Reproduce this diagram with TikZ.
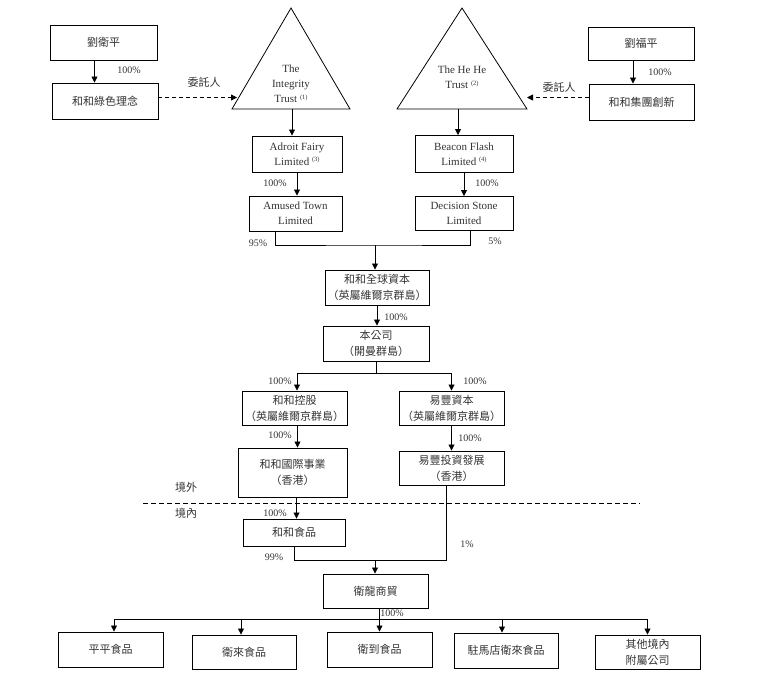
\documentclass[tikz,border=0pt]{standalone}
\usepackage{fontspec}
\setmainfont{Liberation Serif}
\newfontfamily\cjk{Noto Sans CJK TC}
\usetikzlibrary{arrows.meta,calc}
\newcommand\notemark[1]{\raisebox{0.7ex}{\fontsize{6.5}{6.5}\selectfont(#1)}}

\begin{document}
\begin{tikzpicture}[x=1pt,y=-1pt,line width=0.8pt,>={Triangle[length=6pt,width=6pt]},
    box/.style={draw,line width=0.95pt,inner sep=0pt,align=center,text=black!80,
      font=\fontsize{11}{15}\selectfont},
    zh/.style={box,font=\cjk\fontsize{11}{16}\selectfont},
    pct/.style={inner sep=0pt,text=black!80,font=\fontsize{10}{10}\selectfont},
    zhlabel/.style={inner sep=0pt,text=black!80,font=\cjk\fontsize{11}{11}\selectfont}]
  \useasboundingbox (0,0) rectangle (768,697);
  % owners and trusts
  \node[zh,minimum width=107pt,minimum height=35pt] (1) at (103.5,42.5) {劉衛平};
  \node[zh,minimum width=106pt,minimum height=36pt] (2) at (105,101) {和和綠色理念};
  \node[zh,minimum width=106pt,minimum height=33pt] (4) at (641,43.5) {劉福平};
  \node[zh,minimum width=105pt,minimum height=36pt] (5) at (641.5,102) {和和集團創新};
  \coordinate (3top) at (291,8);
  \coordinate (3left) at (232,109);
  \coordinate (3right) at (350,109);
  \coordinate (3base) at (292,109);
  \coordinate (3in) at (237,97.5);
  \coordinate (6top) at (462,8);
  \coordinate (6left) at (397,109);
  \coordinate (6right) at (527,109);
  \coordinate (6base) at (458,109);
  \coordinate (6in) at (527,97.5);
  \draw (3top) -- (3right) -- (3left) -- cycle;
  \draw (6top) -- (6right) -- (6left) -- cycle;
  \node[align=center,inner sep=0pt,text=black!80,font=\fontsize{11}{15}\selectfont] (3) at (291,84) {The\\Integrity\\Trust \notemark{1}};
  \node[align=center,inner sep=0pt,text=black!80,font=\fontsize{11}{15}\selectfont] (6) at (462,77.5) {The He He\\Trust \notemark{2}};
  % offshore holding companies
  \node[box,minimum width=90pt,minimum height=36pt] (7) at (297,154) {Adroit Fairy\\Limited \notemark{3}};
  \node[box,minimum width=93pt,minimum height=35pt] (8) at (295.5,213.5) {Amused Town\\Limited};
  \node[box,minimum width=98pt,minimum height=37pt] (9) at (464,154) {Beacon Flash\\Limited \notemark{4}};
  \node[box,minimum width=98pt,minimum height=34pt] (10) at (464,213.5) {Decision Stone\\Limited};
  \node[zh,minimum width=104pt,minimum height=35pt] (11) at (377,287.5) {和和全球資本\\（英屬維爾京群島）};
  \node[zh,minimum width=106pt,minimum height=35pt] (12) at (376,343.5) {本公司\\（開曼群島）};
  \node[zh,minimum width=105pt,minimum height=34pt] (13) at (294.5,408) {和和控股\\（英屬維爾京群島）};
  \node[zh,minimum width=105pt,minimum height=34pt] (14) at (451.5,408) {易豐資本\\（英屬維爾京群島）};
  \node[zh,minimum width=109pt,minimum height=49pt] (15) at (292.5,472.5) {和和國際事業\\（香港）};
  \node[zh,minimum width=105pt,minimum height=34pt] (16) at (451.5,468) {易豐投資發展\\（香港）};
  % onshore companies
  \node[zh,minimum width=102pt,minimum height=27pt] (17) at (294,532.5) {和和食品};
  \node[zh,minimum width=105pt,minimum height=34pt] (18) at (375.5,591) {衛龍商貿};
  \node[zh,minimum width=105pt,minimum height=35pt] (19) at (110.5,649.5) {平平食品};
  \node[zh,minimum width=104pt,minimum height=34pt] (20) at (244,652) {衛來食品};
  \node[zh,minimum width=105pt,minimum height=35pt] (21) at (379.5,649.5) {衛到食品};
  \node[zh,minimum width=104pt,minimum height=35pt] (22) at (506,650.5) {駐馬店衛來食品};
  \node[zh,minimum width=105pt,minimum height=34pt] (23) at (647.5,652) {其他境內\\附屬公司};
  % connectors
  \draw[->] ([xshift=-9pt]1.south) -- ([xshift=-9pt]1.south |- 2.north);
  \draw[->] ([xshift=-8pt]4.south) -- ([xshift=-8pt]4.south |- 5.north);
  \draw[->,dashed,dash pattern=on 4pt off 3pt] (2.east |- 3in) -- (3in);
  \draw[->,dashed,dash pattern=on 4pt off 3pt] (5.west |- 6in) -- (6in);
  \draw[->] (3base) -- (3base |- 7.north);
  \draw[->] (6base) -- (6base |- 9.north);
  \draw[->] (7.south) -- (7.south |- 8.north);
  \draw[->] (9.south) -- (9.south |- 10.north);
  \coordinate (m1) at (375,245);
  \draw ([xshift=-20pt]8.south) |- (m1) -| ([xshift=6pt]10.south);
  \draw[->] (m1) -- (m1 |- 11.north);
  \draw[->] (11.south) -- (11.south |- 12.north);
  \coordinate (m2) at (376,373);
  \draw (12.south) -- (m2);
  \draw[->] (m2) -| ([xshift=2.5pt]13.north);
  \draw[->] (m2) -| (14.north);
  \draw[->] ([xshift=3pt]13.south) -- ([xshift=3pt]13.south |- 15.north);
  \draw[->] (14.south) -- (14.south |- 16.north);
  \draw[->] ([xshift=4pt]15.south) -- ([xshift=4pt]15.south |- 17.north);
  \coordinate (m3) at (375,560);
  \draw (17.south) |- (m3) -| ([xshift=-5pt]16.south);
  \draw[->] (m3) -- (m3 |- 18.north);
  \coordinate (m4) at (379,619);
  \draw (m4 |- 18.south) -- (m4);
  \foreach \n/\s in {19/3.5,20/-3,21/0,22/-4,23/0}
    \draw[->] (m4) -| ([xshift=\s pt]\n.north);
  % offshore / onshore border
  \coordinate (b1) at (143,503);
  \coordinate (b2) at (640,503);
  \draw[dashed,dash pattern=on 5pt off 3pt] (b1) -- (b2);
  \node[zhlabel] (z1) at (186,487) {境外};
  \node[zhlabel] (z2) at (186,513) {境內};
  \node[zhlabel] (z3) at (204,82) {委託人};
  \node[zhlabel] (z4) at (559,87) {委託人};
  % percentages
  \node[pct] (p1) at (129,70) {100\%};
  \node[pct] (p2) at (660,72) {100\%};
  \node[pct] (p3) at (275,183) {100\%};
  \node[pct] (p4) at (487,183) {100\%};
  \node[pct] (p5) at (258,243) {95\%};
  \node[pct] (p6) at (495,241) {5\%};
  \node[pct] (p7) at (396,317) {100\%};
  \node[pct] (p8) at (280,381) {100\%};
  \node[pct] (p9) at (475,381) {100\%};
  \node[pct] (p10) at (280,435) {100\%};
  \node[pct] (p11) at (470,438) {100\%};
  \node[pct] (p12) at (275,513) {100\%};
  \node[pct] (p13) at (274,557) {99\%};
  \node[pct] (p14) at (467,544) {1\%};
  \node[pct] (p15) at (392,613) {100\%};
\end{tikzpicture}
\end{document}
